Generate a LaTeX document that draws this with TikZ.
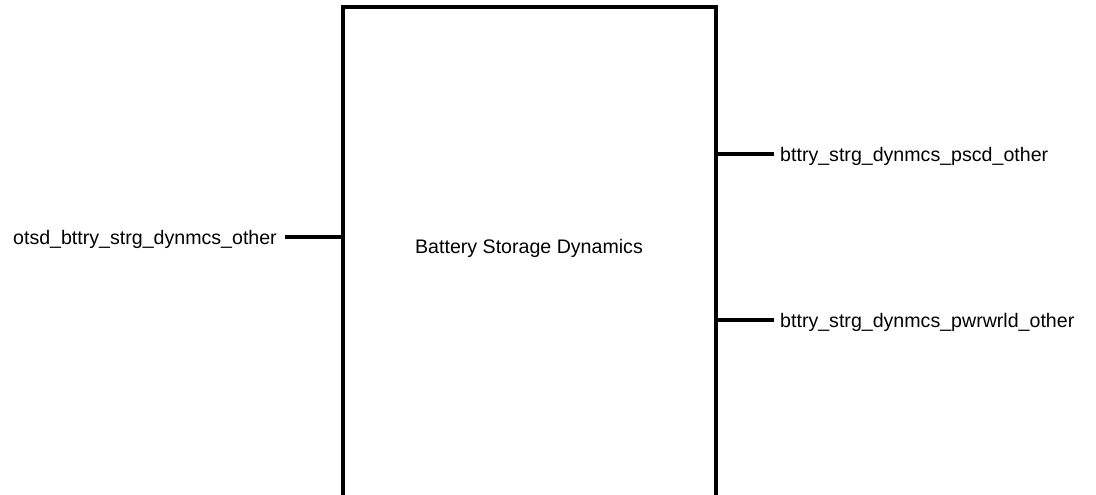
\documentclass[tikz,border=0pt]{standalone}
\usepackage{fontspec}
\setmainfont{Liberation Sans}
\begin{document}
\begin{tikzpicture}[x=1pt,y=-1pt,
  blk/.style={draw, line width=4pt, minimum width=373pt, minimum height=500pt, inner sep=0pt, anchor=center},
  lbl/.style={font=\fontsize{19.6}{22}\selectfont, inner sep=0pt},
  stub/.style={line width=4pt}]
\useasboundingbox[fill=white] (0,0) rectangle (1096,495);
\node[blk] (box) at (529.5,257) {};
\node[lbl] (title) at (529,248.5) {Battery Storage Dynamics};
\node[lbl, anchor=east] (in1) at (277,239) {otsd\_bttry\_strg\_dynmcs\_other};
\node[lbl, anchor=west] (out1) at (780,156) {bttry\_strg\_dynmcs\_pscd\_other};
\node[lbl, anchor=west] (out2) at (780,322) {bttry\_strg\_dynmcs\_pwrwrld\_other};
\coordinate (in1s) at (285,237);
\coordinate (out1s) at (774,154);
\coordinate (out2s) at (774,320);
\draw[stub] (in1s) -- (box.west |- in1s);
\draw[stub] (box.east |- out1s) -- (out1s);
\draw[stub] (box.east |- out2s) -- (out2s);
\end{tikzpicture}
\end{document}
